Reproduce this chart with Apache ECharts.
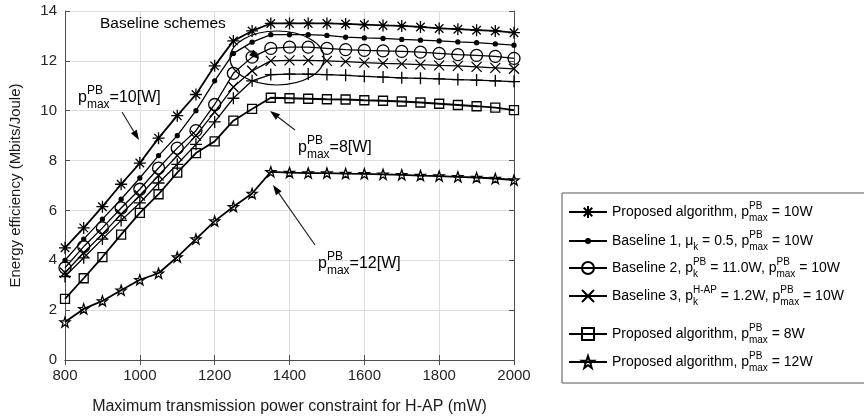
<!DOCTYPE html>
<html>
<head>
<meta charset="utf-8">
<script src="https://cdn.jsdelivr.net/npm/echarts@6/dist/echarts.min.js"></script>
<style>
  html, body { margin: 0; padding: 0; background: #fff; }
  #chart { width: 864px; height: 420px; }
</style>
</head>
<body>
<div id="chart"></div>
<script>
// H-AP power constraint (mW)
const powerMw = [800, 850, 900, 950, 1000, 1050, 1100, 1150, 1200, 1250, 1300, 1350, 1400,
  1450, 1500, 1550, 1600, 1650, 1700, 1750, 1800, 1850, 1900, 1950, 2000];

// energy efficiency (Mbits/Joule)
const proposed10 = [4.5, 5.3, 6.15, 7.05, 7.9, 8.9, 9.8, 10.65, 11.8, 12.8, 13.2, 13.5, 13.5,
  13.5, 13.5, 13.48, 13.45, 13.42, 13.4, 13.36, 13.3, 13.27, 13.23, 13.2, 13.13];
const baseline1 = [4.0, 4.85, 5.65, 6.45, 7.3, 8.2, 9.0, 10.0, 11.2, 12.3, 12.75, 13.05, 13.05,
  13.05, 13.02, 12.95, 12.92, 12.9, 12.86, 12.83, 12.8, 12.76, 12.73, 12.68, 12.63];
const baseline2 = [3.7, 4.55, 5.3, 6.1, 6.85, 7.7, 8.5, 9.2, 10.25, 11.5, 12.15, 12.5, 12.55,
  12.55, 12.5, 12.45, 12.42, 12.4, 12.38, 12.35, 12.3, 12.25, 12.22, 12.18, 12.1];
const baseline3 = [3.5, 4.3, 5.05, 5.85, 6.6, 7.4, 8.2, 9.0, 9.95, 10.95, 11.6, 12.0, 12.02,
  12.02, 12.0, 11.97, 11.93, 11.9, 11.88, 11.85, 11.82, 11.8, 11.76, 11.72, 11.68];
const unlabeledPlus = [3.35, 4.1, 4.85, 5.6, 6.3, 7.1, 7.85, 8.65, 9.55, 10.5, 11.2, 11.45, 11.47,
  11.47, 11.45, 11.42, 11.38, 11.35, 11.32, 11.3, 11.28, 11.25, 11.23, 11.2, 11.17];
const proposed8 = [2.45, 3.28, 4.13, 5.03, 5.9, 6.65, 7.52, 8.3, 8.77, 9.6, 10.07, 10.52, 10.5,
  10.48, 10.46, 10.45, 10.42, 10.4, 10.37, 10.33, 10.28, 10.23, 10.18, 10.12, 10.02];
const proposed12 = [1.52, 2.05, 2.37, 2.8, 3.22, 3.48, 4.13, 4.85, 5.57, 6.15, 6.68, 7.55, 7.52,
  7.5, 7.5, 7.48, 7.47, 7.45, 7.43, 7.4, 7.38, 7.35, 7.32, 7.28, 7.22];

const xTicks = { min: 800, max: 2000, step: 200 };
const yTicks = { min: 0, max: 14, step: 2 };

const legendNames = ['prop10', 'base1', 'base2', 'base3', 'prop8', 'prop12'];
const legendLabels = [
  'Proposed algorithm, p{supz|PB}{sub|max} = 10W',
  'Baseline 1, \u03bc{sub|k} = 0.5, p{supz|PB}{sub|max} = 10W',
  'Baseline 2, p{subz|k}{sup|PB} = 11.0W, p{supz|PB}{sub|max} = 10W',
  'Baseline 3, p{subz|k}{sup|H-AP} = 1.2W, p{supz|PB}{sub|max} = 10W',
  'Proposed algorithm, p{supz|PB}{sub|max} = 8W',
  'Proposed algorithm, p{supz|PB}{sub|max} = 12W'
];

const FONT = '"Liberation Sans", Arial, sans-serif';
const INK = '#000';

const ASTERISK = 'path://M10,0L10,20M0,10L20,10M2.93,2.93L17.07,17.07M2.93,17.07L17.07,2.93';
const CROSS = 'path://M0,0L20,20M0,20L20,0';
const PLUS = 'path://M10,0L10,20M0,10L20,10';
const STAR = 'path://M10,0L12.35,6.76L19.51,6.91L13.8,11.24L15.88,18.09L10,14L4.12,18.09L6.2,11.24L0.49,6.91L7.65,6.76Z';

function mkSeries(name, ys, symbol, size, lw, fill) {
  return {
    name, type: 'line',
    data: powerMw.map((x, i) => [x, ys[i]]),
    symbol, symbolSize: size,
    lineStyle: { color: INK, width: lw },
    itemStyle: { color: fill || 'rgba(0,0,0,0)', borderColor: INK, borderWidth: 1.3 },
    emphasis: { disabled: true },
    silent: true,
    z: 3
  };
}

const series = [
  mkSeries('prop10', proposed10, ASTERISK, 12, 1.8),
  mkSeries('base1', baseline1, 'circle', 4, 1.3, INK),
  mkSeries('base2', baseline2, 'circle', 12, 1.3),
  mkSeries('base3', baseline3, CROSS, 10, 1.3),
  mkSeries('plus', unlabeledPlus, PLUS, 12, 1.3),
  mkSeries('prop8', proposed8, 'rect', 9, 1.8),
  mkSeries('prop12', proposed12, STAR, 10, 1.8)
];

// legend rows, one component per row so the spacing follows the figure
const rowCenters = [212, 241, 268, 296, 334, 362];
const legendRich = {
  sup: { fontSize: 10, fontFamily: FONT, color: INK, verticalAlign: 'top', lineHeight: 22 },
  supz: { fontSize: 10, fontFamily: FONT, color: INK, verticalAlign: 'top', lineHeight: 22, width: 0 },
  sub: { fontSize: 10, fontFamily: FONT, color: INK, verticalAlign: 'bottom', lineHeight: 22 },
  subz: { fontSize: 10, fontFamily: FONT, color: INK, verticalAlign: 'bottom', lineHeight: 22, width: 0 }
};
const legends = legendNames.map((n, i) => ({
  data: [n],
  left: 568,
  top: rowCenters[i] - 11,
  padding: 0,
  itemWidth: 38,
  itemHeight: i === 1 ? 5 : 15,
  selectedMode: false,
  formatter: () => legendLabels[i],
  textStyle: { fontSize: 14, fontFamily: FONT, color: INK, lineHeight: 22, rich: legendRich }
}));

// annotation text: p with stacked PB / max
const annRich = {
  p: { fontSize: 16, fontFamily: FONT, fill: INK, lineHeight: 26 },
  sup: { fontSize: 12, fontFamily: FONT, fill: INK, verticalAlign: 'top', lineHeight: 26, width: 0 },
  sub: { fontSize: 12, fontFamily: FONT, fill: INK, verticalAlign: 'bottom', lineHeight: 26 },
  t: { fontSize: 16, fontFamily: FONT, fill: INK, lineHeight: 26 }
};
function pLabel(x, y, tail) {
  return {
    type: 'text', x, y, z: 10, silent: true,
    style: { text: '{p|p}{sup|PB}{sub|max}{t|' + tail + '}', rich: annRich, verticalAlign: 'middle', align: 'left' }
  };
}
function arrow(x1, y1, x2, y2) {
  const a = Math.atan2(y2 - y1, x2 - x1), L = 10, W = 3.5;
  const bx = x2 - L * Math.cos(a), by = y2 - L * Math.sin(a);
  return [
    { type: 'line', z: 10, silent: true, shape: { x1, y1, x2: bx, y2: by }, style: { stroke: '#222', lineWidth: 1.2 } },
    { type: 'polygon', z: 10, silent: true,
      shape: { points: [[x2, y2], [bx + W * Math.sin(a), by - W * Math.cos(a)], [bx - W * Math.sin(a), by + W * Math.cos(a)]] },
      style: { fill: '#000' } }
  ];
}

const frame = '#4d4d4d';
const tickStyle = { show: true, inside: true, length: 5, lineStyle: { color: frame } };

const option = {
  animation: false,
  backgroundColor: '#fff',
  grid: { left: 55, right: 350, top: 11, bottom: 51, containLabel: false },
  legend: legends,
  xAxis: [
    {
      type: 'value', min: xTicks.min, max: xTicks.max, interval: xTicks.step,
      name: 'Maximum transmission power constraint for H-AP (mW)',
      nameLocation: 'middle', nameGap: 39,
      nameTextStyle: { fontSize: 16, fontFamily: FONT, color: '#1a1a1a' },
      axisLine: { lineStyle: { color: frame } },
      axisTick: tickStyle,
      axisLabel: { fontSize: 15, fontFamily: FONT, color: '#262626', margin: 8, formatter: (v) => String(v) },
      splitLine: { show: true, lineStyle: { color: '#dedede', width: 1 } }
    },
    {
      type: 'value', position: 'top', min: xTicks.min, max: xTicks.max, interval: xTicks.step,
      axisLine: { show: true, lineStyle: { color: frame } },
      axisTick: tickStyle, axisLabel: { show: false }, splitLine: { show: false }
    }
  ],
  yAxis: [
    {
      type: 'value', min: yTicks.min, max: yTicks.max, interval: yTicks.step,
      name: 'Energy efficiency (Mbits/Joule)',
      nameLocation: 'middle', nameGap: 42,
      nameTextStyle: { fontSize: 15, fontFamily: FONT, color: '#1a1a1a' },
      axisLine: { show: true, lineStyle: { color: frame } },
      axisTick: tickStyle,
      axisLabel: { fontSize: 15, fontFamily: FONT, color: '#262626', margin: 8 },
      splitLine: { show: true, lineStyle: { color: '#dedede', width: 1 } }
    },
    {
      type: 'value', position: 'right', min: yTicks.min, max: yTicks.max, interval: yTicks.step,
      axisLine: { show: true, lineStyle: { color: frame } },
      axisTick: tickStyle, axisLabel: { show: false }, splitLine: { show: false }
    }
  ],
  series,
  graphic: [
    { type: 'rect', silent: true, shape: { x: 562, y: 193, width: 320, height: 190 },
      style: { fill: '#fff', stroke: '#555', lineWidth: 1 }, z: -1 },
    { type: 'text', x: 100, y: 24, silent: true, z: 10,
      style: { text: 'Baseline schemes', fontSize: 15.5, fontFamily: FONT, fill: INK, verticalAlign: 'middle' } },
    { type: 'ellipse', silent: true, z: 10, shape: { cx: 277, cy: 58, rx: 47, ry: 27 },
      style: { fill: 'none', stroke: '#000', lineWidth: 1.2 } },
    ...arrow(245, 47, 259, 59),
    pLabel(78, 98, '=10[W]'),
    ...arrow(122, 112, 139, 140),
    pLabel(298, 148, '=8[W]'),
    ...arrow(295, 130, 270, 111),
    pLabel(318, 264, '=12[W]'),
    ...arrow(315, 245, 273, 185)
  ]
};

const chart = echarts.init(document.getElementById('chart'), null, { renderer: 'canvas' });
chart.setOption(option);
</script>
</body>
</html>
